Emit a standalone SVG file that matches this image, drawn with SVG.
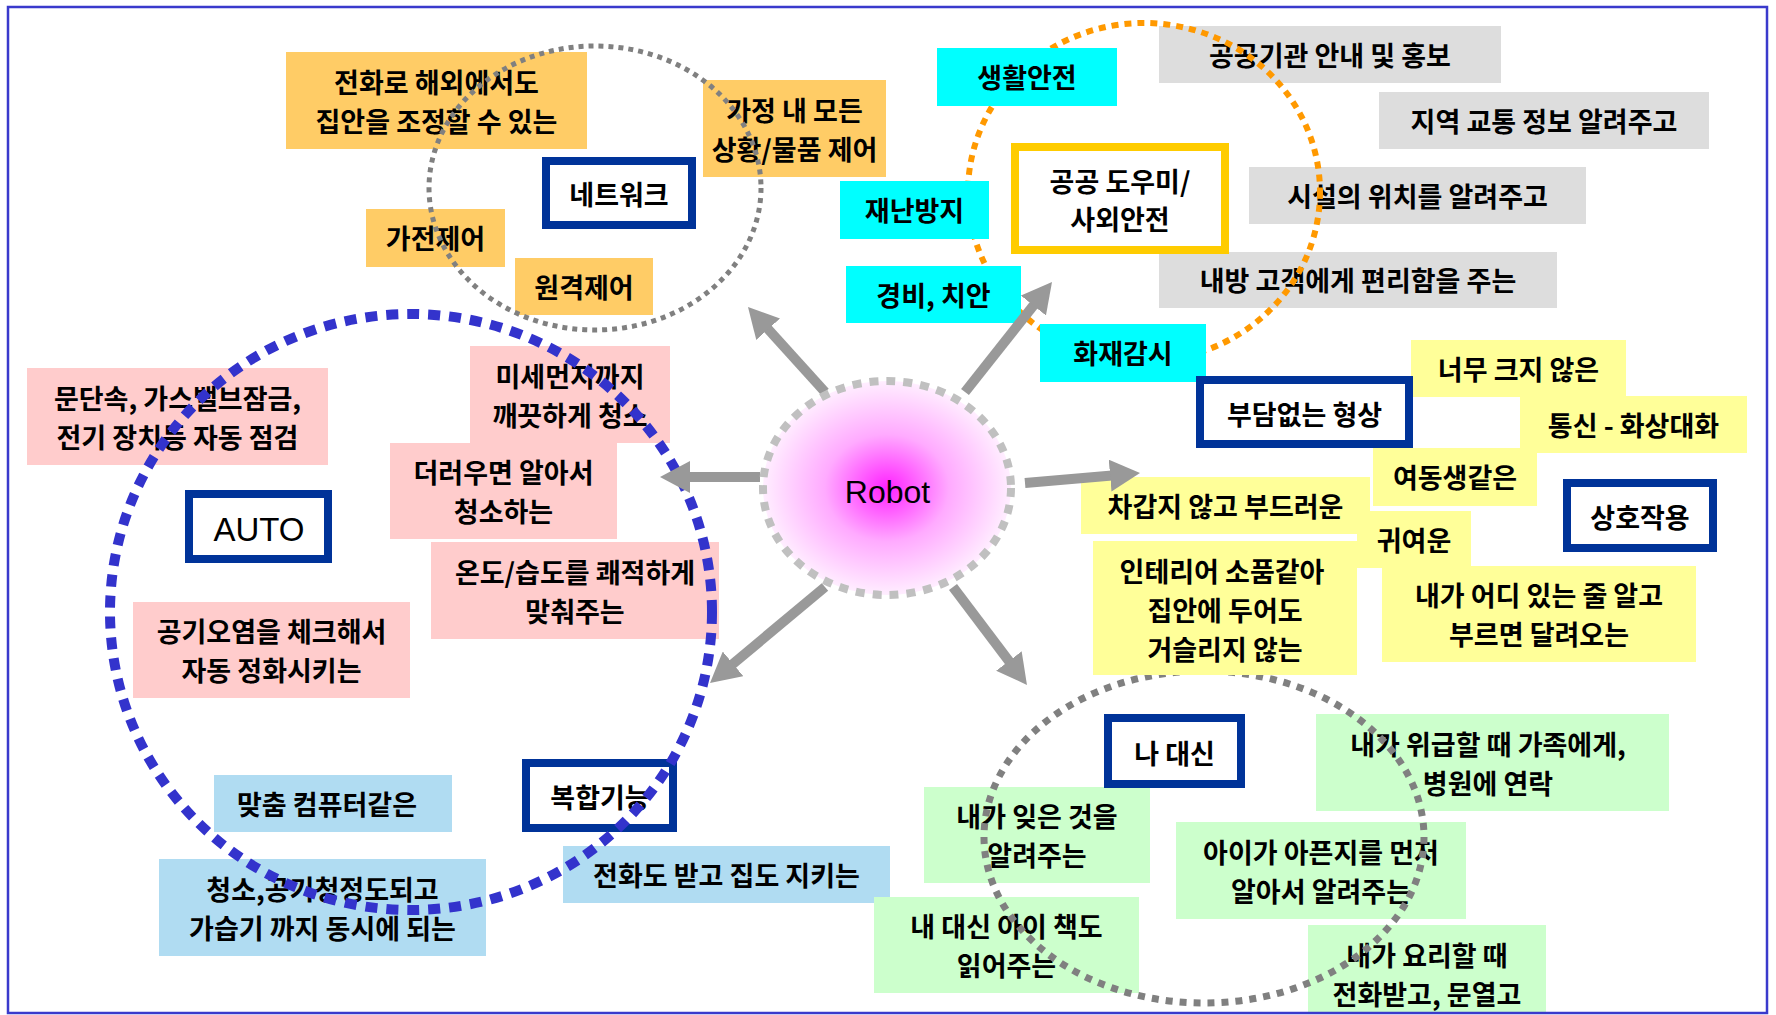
<svg xmlns="http://www.w3.org/2000/svg" width="1776" height="1015" viewBox="0 0 1776 1015">
<style>
.t{font-family:"Noto Sans CJK KR","Noto Sans",sans-serif;font-size:27px;font-weight:bold;fill:#000;text-anchor:middle}
.or{fill:#ffcc66}
.cy{fill:#00ffff}
.gr{fill:#dddddd}
.pk{fill:#ffcccc}
.lb{fill:#b0dcf2}
.ye{fill:#ffff99}
.gn{fill:#ccffcc}
.key{fill:#ffffff;stroke:#003399;stroke-width:8}
.key2{fill:#ffffff;stroke:#ffcc00;stroke-width:8}
.arrow{stroke:#999999;stroke-width:10;fill:none;marker-end:url(#ah)}
</style>
<defs>
<marker id="ah" markerUnits="userSpaceOnUse" markerWidth="30" markerHeight="32" viewBox="0 0 30 32" refX="5" refY="16" orient="auto">
<path d="M0,0 L30,16 L0,32 z" fill="#999999"/>
</marker>
<radialGradient id="rg" cx="50%" cy="50%" r="50%">
<stop offset="0" stop-color="#ff22ff"/>
<stop offset="0.5" stop-color="#ffaaff"/>
<stop offset="1" stop-color="#ffeeff"/>
</radialGradient>
</defs>
<rect x="0" y="0" width="1776" height="1015" fill="#ffffff"/>

<!-- gray public boxes -->
<g id="n-public1"><rect class="gr" x="1159" y="26" width="342" height="57"/><text class="t" x="1330" y="65.5">공공기관 안내 및 홍보</text></g>
<g id="n-public2"><rect class="gr" x="1379" y="92" width="330" height="57"/><text class="t" x="1544" y="131.5">지역 교통 정보 알려주고</text></g>
<g id="n-public3"><rect class="gr" x="1249" y="167" width="337" height="57"/><text class="t" x="1417.5" y="206.5">시설의 위치를 알려주고</text></g>
<g id="n-public4"><rect class="gr" x="1159" y="252" width="398" height="56"/><text class="t" x="1358" y="291">내방 고객에게 편리함을 주는</text></g>

<ellipse id="cluster-public" cx="1144" cy="192" rx="176" ry="169" fill="none" stroke="#ff9900" stroke-width="6" stroke-dasharray="7 6"/>

<!-- cyan safety boxes -->
<g id="n-safe1"><rect class="cy" x="937" y="48" width="180" height="58"/><text class="t" x="1027" y="88">생활안전</text></g>
<g id="n-safe2"><rect class="cy" x="840" y="181" width="149" height="58"/><text class="t" x="914.5" y="221">재난방지</text></g>
<g id="n-safe3"><rect class="cy" x="846" y="266" width="175" height="57"/><text class="t" x="933.5" y="305.5">경비, 치안</text></g>
<g id="n-safe4"><rect class="cy" x="1040" y="324" width="166" height="58"/><text class="t" x="1123" y="364">화재감시</text></g>
<g id="k-public"><rect class="key2" x="1015" y="147" width="210" height="103"/><text class="t" x="1120" y="192">공공 도우미/</text><text class="t" x="1120" y="230">사외안전</text></g>

<!-- orange network boxes -->
<g id="n-net1"><rect class="or" x="286" y="52" width="301" height="97"/><text class="t" x="436.5" y="92.5">전화로 해외에서도</text><text class="t" x="436.5" y="131.5">집안을 조정할 수 있는</text></g>
<g id="n-net2"><rect class="or" x="703" y="80" width="183" height="97"/><text class="t" x="794.5" y="120.5">가정 내 모든</text><text class="t" x="794.5" y="159.5">상황/물품 제어</text></g>
<g id="n-net3"><rect class="or" x="366" y="209" width="139" height="58"/><text class="t" x="435.5" y="249">가전제어</text></g>
<g id="n-net4"><rect class="or" x="515" y="258" width="138" height="57"/><text class="t" x="584" y="297.5">원격제어</text></g>
<g id="k-network"><rect class="key" x="546" y="161" width="146" height="64"/><text class="t" x="619" y="205">네트워크</text></g>

<ellipse id="cluster-network" cx="595" cy="188" rx="166" ry="142" fill="none" stroke="#808080" stroke-width="5" stroke-dasharray="5 5"/>

<!-- pink auto boxes -->
<g id="n-auto1"><rect class="pk" x="27" y="368" width="301" height="97"/><text class="t" x="177.5" y="408.5">문단속, 가스밸브잠금,</text><text class="t" x="177.5" y="447.5">전기 장치등 자동 점검</text></g>
<g id="n-auto2"><rect class="pk" x="470" y="346" width="200" height="97"/><text class="t" x="570" y="386.5">미세먼지까지</text><text class="t" x="570" y="425.5">깨끗하게 청소</text></g>
<g id="n-auto3"><rect class="pk" x="390" y="443" width="227" height="96"/><text class="t" x="503.5" y="483">더러우면 알아서</text><text class="t" x="503.5" y="522">청소하는</text></g>
<g id="n-auto4"><rect class="pk" x="431" y="542" width="288" height="97"/><text class="t" x="575" y="582.5">온도/습도를 쾌적하게</text><text class="t" x="575" y="621.5">맞춰주는</text></g>
<g id="n-auto5"><rect class="pk" x="133" y="602" width="277" height="96"/><text class="t" x="271.5" y="642">공기오염을 체크해서</text><text class="t" x="271.5" y="681">자동 정화시키는</text></g>
<g id="k-auto"><rect class="key" x="189" y="494" width="139" height="65"/><text x="259" y="541" style="font-family:'Liberation Sans',Arial,sans-serif;font-size:33px;text-anchor:middle;fill:#000">AUTO</text></g>

<!-- light blue multi boxes -->
<g id="n-multi1"><rect class="lb" x="214" y="775" width="238" height="57"/><text class="t" x="327" y="814.5">맞춤 컴퓨터같은</text></g>
<g id="n-multi2"><rect class="lb" x="159" y="859" width="327" height="97"/><text class="t" x="322.5" y="899.5">청소,공기청정도되고</text><text class="t" x="322.5" y="938.5">가습기 까지 동시에 되는</text></g>
<g id="n-multi3"><rect class="lb" x="563" y="846" width="327" height="57"/><text class="t" x="726.5" y="885.5">전화도 받고 집도 지키는</text></g>
<g id="k-multi"><rect class="key" x="526" y="763" width="147" height="65"/><text class="t" x="600" y="807.5">복합기능</text></g>

<ellipse id="cluster-auto" cx="411" cy="612" rx="301" ry="298" fill="none" stroke="#3333cc" stroke-width="10" stroke-dasharray="12 9"/>

<!-- green boxes -->
<g id="n-me1"><rect class="gn" x="1316" y="714" width="353" height="97"/><text class="t" x="1488" y="754.5">내가 위급할 때 가족에게,</text><text class="t" x="1488" y="793.5">병원에 연락</text></g>
<g id="n-me2"><rect class="gn" x="924" y="787" width="226" height="96"/><text class="t" x="1037" y="827">내가 잊은 것을</text><text class="t" x="1037" y="866">알려주는</text></g>
<g id="n-me3"><rect class="gn" x="1176" y="822" width="290" height="97"/><text class="t" x="1321" y="862.5">아이가 아픈지를 먼저</text><text class="t" x="1321" y="901.5">알아서 알려주는</text></g>
<g id="n-me4"><rect class="gn" x="874" y="897" width="265" height="96"/><text class="t" x="1006.5" y="937">내 대신 아이 책도</text><text class="t" x="1006.5" y="976">읽어주는</text></g>
<g id="n-me5"><rect class="gn" x="1308" y="925" width="238" height="88"/><text class="t" x="1427" y="965.5">내가 요리할 때</text><text class="t" x="1427" y="1004.5">전화받고, 문열고</text></g>
<g id="k-me"><rect class="key" x="1108" y="718" width="133" height="66"/><text class="t" x="1174.5" y="764">나 대신</text></g>

<ellipse id="cluster-me" cx="1204" cy="837" rx="220" ry="166" fill="none" stroke="#808080" stroke-width="7" stroke-dasharray="7 7"/>

<!-- yellow boxes -->
<g id="n-shape1"><rect class="ye" x="1411" y="340" width="215" height="57"/><text class="t" x="1518.5" y="379.5">너무 크지 않은</text></g>
<g id="n-shape2"><rect class="ye" x="1520" y="396" width="227" height="57"/><text class="t" x="1633.5" y="435.5">통신 - 화상대화</text></g>
<g id="n-shape3"><rect class="ye" x="1373" y="448" width="164" height="58"/><text class="t" x="1455" y="488">여동생같은</text></g>
<g id="n-shape4"><rect class="ye" x="1081" y="477" width="289" height="57"/><text class="t" x="1225.5" y="516.5">차갑지 않고 부드러운</text></g>
<g id="n-shape5"><rect class="ye" x="1357" y="511" width="114" height="57"/><text class="t" x="1414" y="550.5">귀여운</text></g>
<g id="n-shape6"><rect class="ye" x="1093" y="541" width="264" height="134"/><text class="t" x="1222" y="582">인테리어 소품같아</text><text class="t" x="1225" y="621">집안에 두어도</text><text class="t" x="1225" y="660">거슬리지 않는</text></g>
<g id="n-shape7"><rect class="ye" x="1382" y="566" width="314" height="96"/><text class="t" x="1539" y="606">내가 어디 있는 줄 알고</text><text class="t" x="1539" y="645">부르면 달려오는</text></g>
<g id="k-shape"><rect class="key" x="1200" y="380" width="209" height="64"/><text class="t" x="1304.5" y="425">부담없는 형상</text></g>
<g id="k-inter"><rect class="key" x="1567" y="483" width="146" height="65"/><text class="t" x="1640" y="528">상호작용</text></g>

<!-- connectors -->
<g id="connectors">
<line class="arrow" x1="825" y1="392" x2="764.8" y2="325.5"/>
<line class="arrow" x1="965" y1="392" x2="1036.5" y2="301.6"/>
<line class="arrow" x1="760" y1="477" x2="685" y2="477"/>
<line class="arrow" x1="1025" y1="483" x2="1115.1" y2="475.2"/>
<line class="arrow" x1="825" y1="587" x2="729.2" y2="667"/>
<line class="arrow" x1="953" y1="587" x2="1011.9" y2="665"/>
</g>

<!-- robot -->
<g id="robot">
<ellipse cx="887" cy="488" rx="124" ry="107" fill="url(#rg)" stroke="#c0c0c0" stroke-width="8" stroke-dasharray="9 8"/>
<text x="887.5" y="503" style="font-family:'Liberation Sans',Arial,sans-serif;font-size:32px;text-anchor:middle;fill:#000">Robot</text>
</g>

<rect x="8" y="7" width="1759" height="1006" fill="none" stroke="#3a3acc" stroke-width="2.5"/>
</svg>
